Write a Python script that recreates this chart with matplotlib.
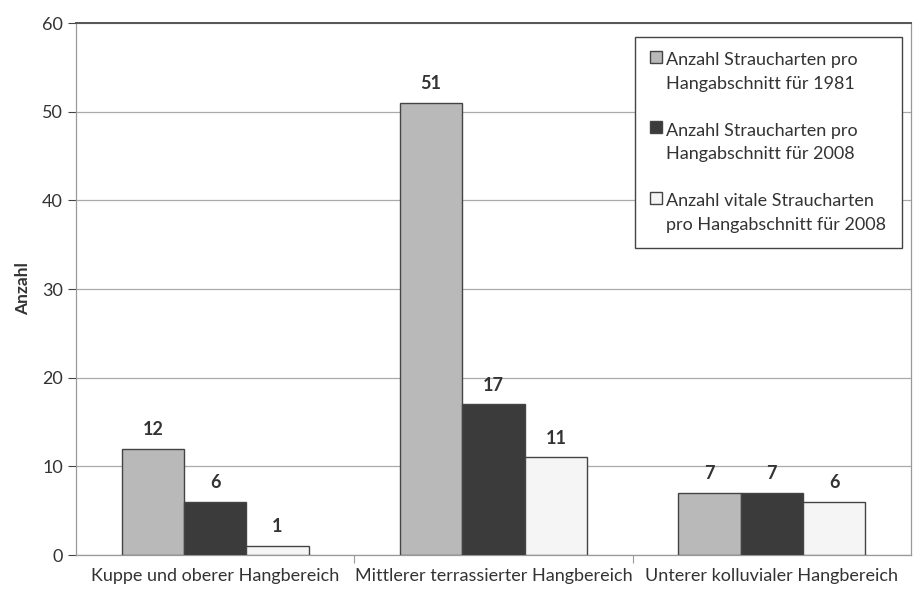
import numpy as np
import matplotlib.pyplot as plt
from matplotlib.patches import Rectangle
from matplotlib.container import BarContainer
from matplotlib.legend_handler import HandlerPatch, update_from_first_child

plt.rcParams['font.family'] = ['Lato', 'DejaVu Sans']

kategorien = ['Kuppe und oberer Hangbereich', 'Mittlerer terrassierter Hangbereich',
              'Unterer kolluvialer Hangbereich']
arten_1981 = [12, 51, 7]
arten_2008 = [6, 17, 7]
vitale_2008 = [1, 11, 6]
serien_namen = ['Anzahl Straucharten pro\nHangabschnitt für 1981',
                'Anzahl Straucharten pro\nHangabschnitt für 2008',
                'Anzahl vitale Straucharten\npro Hangabschnitt für 2008']
farben = ['#b9b9b9', '#3b3b3b', '#f5f5f5']


def kaestchen_oben(legend, orig_handle, xdescent, ydescent, width, height, fontsize):
    # Legendenkästchen auf Höhe der ersten Textzeile
    return Rectangle((-xdescent, -ydescent + 0.85 * fontsize), width, height)


fig = plt.figure(figsize=(9.16, 5.9), dpi=100)
ax = fig.add_axes([76/916, 35/590, (911-76)/916, (555-23)/590])

x = np.arange(len(kategorien))
breite = 0.224
for i, (werte, name, farbe) in enumerate(zip([arten_1981, arten_2008, vitale_2008], serien_namen, farben)):
    pos = x + (i - 1) * breite
    ax.bar(pos, werte, breite, color=farbe, edgecolor='#444444', linewidth=1.0,
           label=name, zorder=3)
    for p, w in zip(pos, werte):
        ax.text(p, w + 1.2, str(w), ha='center', va='bottom', fontsize=13,
                fontweight='bold', color='#333333')

ax.set_xlim(-0.5, 2.5)
ax.set_ylim(0, 60)
ax.set_yticks(range(0, 61, 10))
ax.set_xticks(x)
ax.set_xticklabels(kategorien, fontsize=13, color='#333333')
ax.set_xticks([0.5, 1.5], minor=True)
ax.tick_params(axis='y', labelsize=13, colors='#444444', length=6, width=0.8, labelcolor='#333333')
ax.tick_params(axis='x', which='both', length=6, width=0.8, colors='#999999', labelcolor='#333333')
ax.tick_params(axis='x', which='major', length=0, pad=9)
ax.grid(axis='y', color='#aaaaaa', linewidth=0.9, zorder=0)

for s in ['left', 'right', 'bottom']:
    ax.spines[s].set_color('#999999')
    ax.spines[s].set_linewidth(0.9)
ax.spines['top'].set_color('#555555')
ax.spines['top'].set_linewidth(1.4)

ax.set_ylabel('Anzahl', fontsize=12.5, fontweight='bold', color='#333333', labelpad=8)

leg = ax.legend(loc='upper right', bbox_to_anchor=(0.989, 0.974), borderaxespad=0,
                fontsize=13, frameon=True, fancybox=False, edgecolor='#444444', framealpha=1,
                handlelength=0.65, handleheight=0.65, handletextpad=0.25,
                labelspacing=1.7, borderpad=0.85, labelcolor='#333333',
                handler_map={BarContainer: HandlerPatch(patch_func=kaestchen_oben,
                                                        update_func=update_from_first_child)})
for t in leg.get_texts():
    t.set_linespacing(1.6)
leg.get_frame().set_linewidth(1.0)

fig.savefig('out.png', dpi=100)
